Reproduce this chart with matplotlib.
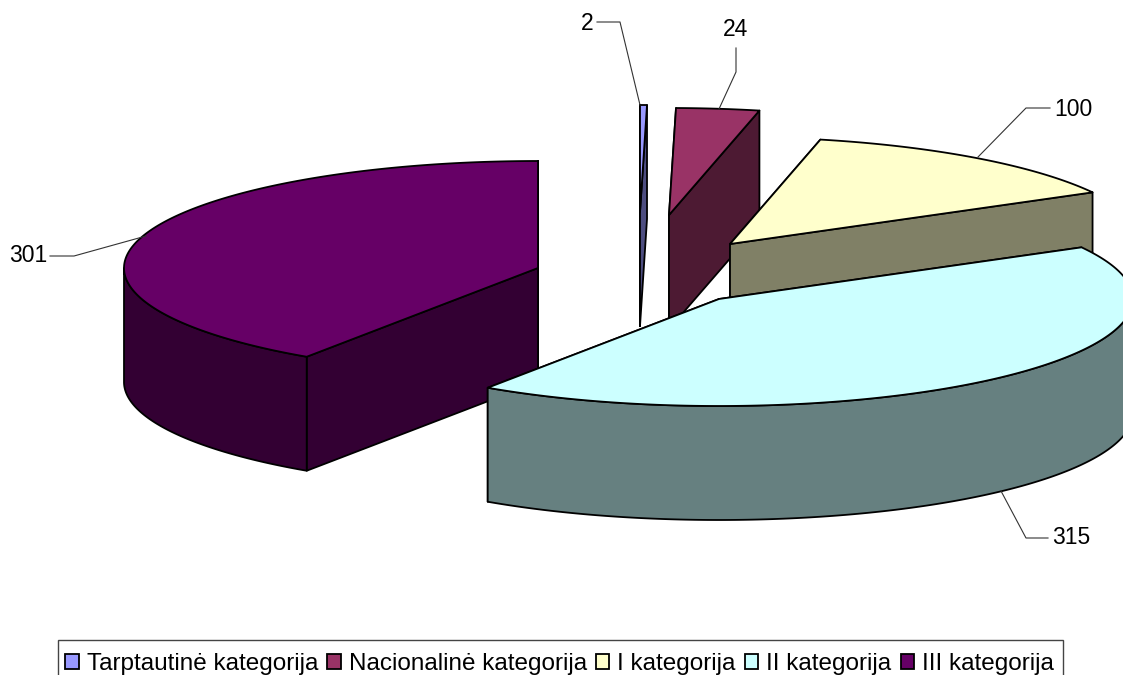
import numpy as np
import matplotlib
matplotlib.use("Agg")
import matplotlib.pyplot as plt
from matplotlib.patches import Polygon, Patch, Rectangle

categories = ["Tarptautinė kategorija", "Nacionalinė kategorija", "I kategorija", "II kategorija", "III kategorija"]
values = [2, 24, 100, 315, 301]

top_colors = ["#9999FF", "#993366", "#FFFFCC", "#CCFFFF", "#660066"]
side_colors = ["#4D4D80", "#4D1A33", "#808066", "#668080", "#330033"]

# pie geometry in pixels
rx = 414
ry = 107
depth = 114
centers = [(640, 212), (669, 215), (730, 244), (719, 299), (538, 268)]
draw_order = [4, 0, 1, 2, 3]

# label text position, then leader line points
label_pos = [(594, 23, "right"), (736, 30, "center"), (1054, 110, "left"), (1052, 538, "left"), (47, 256, "right")]
leaders = [
    [(597, 22), (620, 22), (640, 105)],
    [(736, 48), (736, 72), (719, 109)],
    [(1050, 108), (1026, 108), (978, 157)],
    [(1048, 538), (1026, 538), (1001, 491)],
    [(50, 256), (74, 256), (146, 236)],
]

plt.rcParams["font.family"] = ["Liberation Sans", "DejaVu Sans"]

fig = plt.figure(figsize=(11.23, 6.75), dpi=100)
ax = fig.add_axes([0, 0, 1, 1])
ax.set_xlim(0, 1123)
ax.set_ylim(675, 0)
ax.axis("off")


def point(c, ang, dy=0):
    return c[0] + rx * np.sin(ang), c[1] - ry * np.cos(ang) + dy


total = sum(values)
edges = np.radians(np.cumsum([0] + values) / total * 360)
lw = 1.3

for i in draw_order:
    c = centers[i]
    a0, a1 = edges[i], edges[i + 1]
    # radial faces, back one first
    for a in sorted([a0, a1], key=lambda a: -np.cos(a)):
        ox, oy = point(c, a)
        ax.add_patch(Polygon([c, (ox, oy), (ox, oy + depth), (c[0], c[1] + depth)],
                             fc=side_colors[i], ec="black", lw=lw, joinstyle="round"))
    # outer rim, only the part turned to the viewer
    r0, r1 = max(a0, np.pi / 2), min(a1, 3 * np.pi / 2)
    if r1 > r0:
        x, y = point(c, np.linspace(r0, r1, 200))
        ax.add_patch(Polygon(np.r_[np.c_[x, y], np.c_[x, y + depth][::-1]],
                             fc=side_colors[i], ec="black", lw=lw, joinstyle="round"))
    x, y = point(c, np.linspace(a0, a1, 200))
    ax.add_patch(Polygon(np.r_[[c], np.c_[x, y]], fc=top_colors[i], ec="black", lw=lw, joinstyle="round"))

for i in range(len(values)):
    lx, ly, ha = label_pos[i]
    ax.text(lx, ly, str(values[i]), fontsize=16.5, ha=ha, va="center", color="black")
    pts = np.array(leaders[i])
    ax.plot(pts[:, 0], pts[:, 1], color="#333333", lw=0.8)

# legend box runs off the bottom edge of the picture
ax.add_patch(Rectangle((58, 640), 1005, 50, fc="white", ec="#444444", lw=1))
handles = [Patch(fc=top_colors[i], ec="black", lw=1.3, label=categories[i]) for i in range(len(values))]
ax.legend(handles=handles, ncol=5, loc="upper left", bbox_to_anchor=(58, 646), bbox_transform=ax.transData,
          fontsize=17.5, frameon=False, borderpad=0.3, borderaxespad=0,
          handlelength=0.55, handleheight=0.55, handletextpad=0.33, columnspacing=0.38, labelspacing=0)

fig.savefig("out.png", dpi=100)
